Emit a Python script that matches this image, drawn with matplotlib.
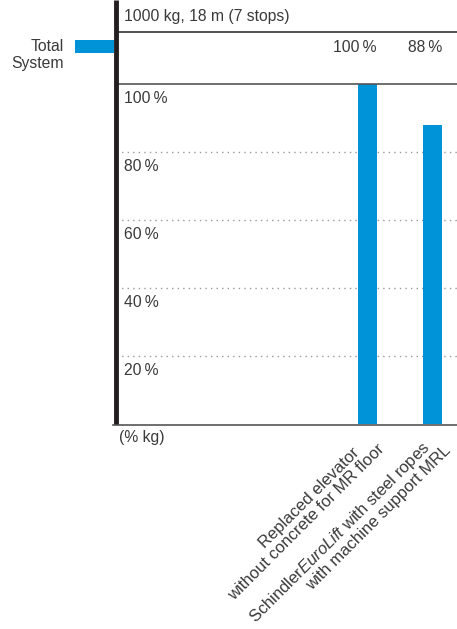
import matplotlib
matplotlib.use("Agg")
import matplotlib.pyplot as plt
from matplotlib.lines import Line2D
from matplotlib.patches import Rectangle

plt.rcParams['font.family'] = ['Liberation Sans', 'DejaVu Sans']
plt.rcParams['mathtext.fontset'] = 'custom'
plt.rcParams['mathtext.it'] = 'Liberation Sans:italic'
plt.rcParams['mathtext.rm'] = 'Liberation Sans'

title = "1000 kg, 18 m (7 stops)"
category_lines = [["Replaced elevator", "without concrete for MR floor"],
                  ["Schindler$\\mathit{EuroLift}$ with steel ropes", "with machine support MRL"]]
values = [100, 88]
value_labels = ["100\u2009%", "88\u2009%"]
yticks = [20, 40, 60, 80, 100]
ytick_labels = ["20\u2009%", "40\u2009%", "60\u2009%", "80\u2009%", "100\u2009%"]
legend_label = "Total\nSystem"
unit_label = "(% kg)"

BLUE = "#0093d8"
TXT = "#3a3a3a"
FS = 11.3
W, H = 457, 629

fig = plt.figure(figsize=(W / 100, H / 100), dpi=100)
# axes in pixel coords: left 116, right 457, bottom 424, top 84
ax = fig.add_axes([116 / W, (H - 424) / H, (457 - 116) / W, (424 - 84) / H])
x = [0, 1]
ax.set_xlim(-3.869, 1.377)
ax.set_ylim(0, 100)
for sp in ax.spines.values():
    sp.set_visible(False)
ax.set_xticks([])
ax.set_yticks([])

for yv in yticks[:-1]:
    ax.axhline(yv, color="#999999", lw=1, ls=(0, (1, 3)), zorder=1)
ax.bar(x, values, width=0.29, color=BLUE, zorder=2)

for yv, lab in zip(yticks, ytick_labels):
    ax.annotate(lab, xy=(0, yv), xycoords=('axes fraction', 'data'),
                xytext=(6, -5), textcoords='offset points', ha='left', va='top',
                fontsize=FS, color=TXT)

ax.annotate(unit_label, xy=(0, 0), xycoords='axes fraction', xytext=(2, -4),
            textcoords='offset points', ha='left', va='top', fontsize=FS, color=TXT)

# pixel offsets of each rotated label line's right end from the bar foot
line_offsets = [[(-10, -26), (15, -23)], [(-5, -21), (16, -24)]]
for xi, lines, offs in zip(x, category_lines, line_offsets):
    for ln, off in zip(lines, offs):
        ax.annotate(ln, xy=(xi, 0), xycoords='data', xytext=off,
                    textcoords='offset pixels', ha='right', va='center',
                    rotation=45, rotation_mode='anchor',
                    fontsize=12, color=TXT)

# figure-level decorations (pixel coords)
def px(xp, yp):
    return xp / W, 1 - yp / H

fig.add_artist(Line2D([116 / W, 1], [1 - 32 / H] * 2, color="#333333", lw=1.2))
fig.add_artist(Line2D([116 / W, 1], [1 - 84 / H] * 2, color="#555555", lw=1.2))
fig.add_artist(Line2D([113 / W, 1], [1 - 424.5 / H] * 2, color="#555555", lw=1.2))
fig.add_artist(Line2D([116.5 / W, 116.5 / W], [1 - 424 / H, 1], color="#231f20", lw=3.5,
                      solid_capstyle='butt'))
fig.add_artist(Rectangle(px(75, 53), 39 / W, 13 / H, color=BLUE, lw=0))
fig.text(*px(64, 55), legend_label, ha='right', va='center', fontsize=FS, color=TXT,
         multialignment='right', linespacing=1.1)
fig.text(*px(124, 17), title, ha='left', va='center', fontsize=FS, color=TXT)

for xi, lab in zip(x, value_labels):
    xd = ax.transData.transform((xi + 0.145, 0))[0]
    fig.text(xd / W, 1 - 47 / H, lab, ha='right', va='center', fontsize=FS, color=TXT)

fig.savefig("out.png", dpi=100)
